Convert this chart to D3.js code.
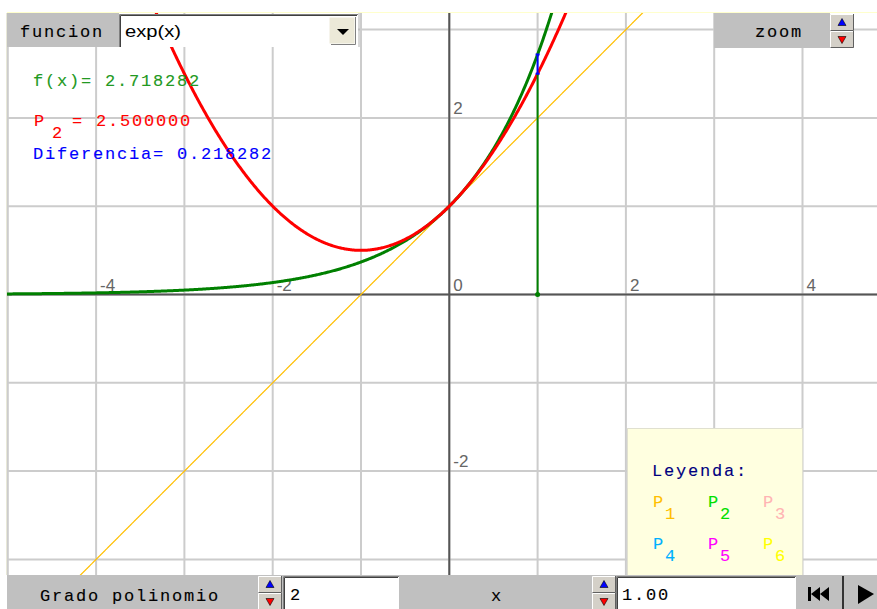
<!DOCTYPE html>
<html>
<head>
<meta charset="utf-8">
<script src="https://cdn.jsdelivr.net/npm/d3@7"></script>
<style>
  body { margin: 0; background: #fff; }
  svg { display: block; }
  .mono { font-family: "Liberation Mono", "DejaVu Sans Mono", monospace; font-size: 17px; letter-spacing: 1.8px; stroke-width: 0.12px; }
</style>
</head>
<body>
<div id="chart"></div>
<script>
// chart values
const funcName = "exp(x)";
const degree = 2;
const xValue = 1.00;
const taylorCoefs = [1, 1, 0.5];          // exp(x) around 0, up to degree 2
const gridValues = [-5, -4, -3, -2, -1, 0, 1, 2, 3, 4, 5];
const xTickLabels = [-4, -2, 0, 2, 4];
const yTickLabels = [-2, 2];
const legendIndex = ["1", "2", "3", "4", "5", "6"];
const legendColors = ["#ffbf00", "#00e000", "#ffb4b4", "#00b0ff", "#ff00ff", "#ffff00"];

const W = 877, H = 609;
const plot = { left: 7, top: 13, right: 877, bottom: 575 };
const unit = 88.3;
const x0 = 449.3, y0 = 294.5;

const svg = d3.select("#chart").append("svg")
    .attr("width", W)
    .attr("height", H);

const x = d3.scaleLinear().domain([-5, 5]).range([x0 - 5 * unit, x0 + 5 * unit]);
const y = d3.scaleLinear().domain([-4, 4]).range([y0 + 4 * unit, y0 - 4 * unit]);

svg.append("defs").append("clipPath").attr("id", "clip")
  .append("rect")
    .attr("x", plot.left).attr("y", plot.top)
    .attr("width", plot.right - plot.left).attr("height", plot.bottom - plot.top);

svg.append("line")
    .attr("x1", plot.left).attr("x2", plot.right)
    .attr("y1", plot.top - 0.5).attr("y2", plot.top - 0.5)
    .attr("stroke", "#ffffcc");
svg.append("line")
    .attr("x1", plot.left - 0.5).attr("x2", plot.left - 0.5)
    .attr("y1", plot.top).attr("y2", plot.bottom)
    .attr("stroke", "#e8e8d8");

const g = svg.append("g").attr("clip-path", "url(#clip)");

// grid
g.selectAll(".gx").data(gridValues).join("line")
    .attr("x1", d => x(d)).attr("x2", d => x(d))
    .attr("y1", plot.top).attr("y2", plot.bottom)
    .attr("stroke", "#cccccc")
    .attr("stroke-width", 2);
g.selectAll(".gy").data(gridValues).join("line")
    .attr("y1", d => y(d)).attr("y2", d => y(d))
    .attr("x1", plot.left).attr("x2", plot.right)
    .attr("stroke", "#cccccc")
    .attr("stroke-width", 2);
// axes on top of grid
g.append("line").attr("x1", x(0)).attr("x2", x(0)).attr("y1", plot.top).attr("y2", plot.bottom)
    .attr("stroke", "#555").attr("stroke-width", 2);
g.append("line").attr("y1", y(0)).attr("y2", y(0)).attr("x1", plot.left).attr("x2", plot.right)
    .attr("stroke", "#555").attr("stroke-width", 2);

// tick labels
const labelFont = "'Liberation Sans', Arial, sans-serif";
g.selectAll(".xl").data(xTickLabels).join("text")
    .attr("x", d => x(d) + 4).attr("y", y(0) - 4)
    .attr("font-family", labelFont).attr("font-size", 17)
    .attr("fill", "#666")
    .text(d => d);
g.selectAll(".yl").data(yTickLabels).join("text")
    .attr("x", x(0) + 4).attr("y", d => y(d) - 4)
    .attr("font-family", labelFont).attr("font-size", 17)
    .attr("fill", "#666")
    .text(d => d);

// curves
const poly = (coefs, t) => coefs.reduce((s, c, i) => s + c * Math.pow(t, i), 0);
const xs = d3.range(-5.3, 5.3, 0.01);
const line = d3.line().x(d => x(d[0])).y(d => y(d[1]));

const p1Coefs = taylorCoefs.slice(0, 2);
g.append("path")
    .attr("d", line(xs.map(t => [t, poly(p1Coefs, t)])))
    .attr("fill", "none").attr("stroke", legendColors[0]).attr("stroke-width", 1.2);

g.append("path")
    .attr("d", line(xs.map(t => [t, Math.exp(t)]).filter(d => d[1] < 6)))
    .attr("fill", "none").attr("stroke", "#008000").attr("stroke-width", 3);

g.append("path")
    .attr("d", line(xs.map(t => [t, poly(taylorCoefs, t)]).filter(d => d[1] < 8)))
    .attr("fill", "none").attr("stroke", "#ff0000").attr("stroke-width", 3);

// marker at x
const fx = Math.exp(xValue);
const px = poly(taylorCoefs, xValue);
g.append("line")
    .attr("x1", x(xValue)).attr("x2", x(xValue))
    .attr("y1", y(0)).attr("y2", y(px))
    .attr("stroke", "#008000").attr("stroke-width", 2);
g.append("line")
    .attr("x1", x(xValue)).attr("x2", x(xValue))
    .attr("y1", y(px)).attr("y2", y(fx))
    .attr("stroke", "#0000ff").attr("stroke-width", 2);
g.selectAll(".bm").data([px, fx]).join("line")
    .attr("x1", x(xValue) - 2).attr("x2", x(xValue) + 2)
    .attr("y1", d => y(d)).attr("y2", d => y(d))
    .attr("stroke", "#0000ff").attr("stroke-width", 2);
g.append("circle").attr("cx", x(xValue)).attr("cy", y(0)).attr("r", 2.5).attr("fill", "#008000");

// readouts
const mono = (sel, xx, yy, color, txt) =>
  sel.append("text").attr("class", "mono").attr("x", xx).attr("y", yy)
      .attr("fill", color).attr("stroke", color).text(txt);

mono(svg, 33, 86, "#229922", `f(x)= ${fx.toFixed(6)}`);
mono(svg, 34, 126, "#ff0000", "P");
mono(svg, 52, 138, "#ff0000", degree);
mono(svg, 72, 126, "#ff0000", `= ${px.toFixed(6)}`);
mono(svg, 33, 159, "#0000ff", `Diferencia= ${(fx - px).toFixed(6)}`);

// legend
const leg = svg.append("g");
leg.append("rect")
    .attr("x", 627.5).attr("y", 428.5).attr("width", 175).attr("height", 147)
    .attr("fill", "#ffffe0").attr("stroke", "#e0e0d0");
mono(leg, 652, 476, "#000080", "Leyenda:");
legendIndex.forEach((d, i) => {
  const cx = 653 + (i % 3) * 55;
  const cy = 507 + Math.floor(i / 3) * 42;
  mono(leg, cx, cy, legendColors[i], "P");
  mono(leg, cx + 12, cy + 12, legendColors[i], d);
});

// controls
function sunken(gg, x1, y1, w, h, fill) {
  gg.append("rect").attr("x", x1).attr("y", y1).attr("width", w).attr("height", h).attr("fill", fill);
  gg.append("path").attr("d", `M${x1 + 0.5},${y1 + h} V${y1 + 0.5} H${x1 + w}`)
      .attr("fill", "none").attr("stroke", "#808080");
  gg.append("path").attr("d", `M${x1 + 1.5},${y1 + h} V${y1 + 1.5} H${x1 + w - 1}`)
      .attr("fill", "none").attr("stroke", "#404040");
}
function spinner(gg, x1, y1, w, h) {
  const hh = h / 2;
  [0, 1].forEach(k => {
    const yy = y1 + k * hh;
    gg.append("rect").attr("x", x1).attr("y", yy).attr("width", w).attr("height", hh)
        .attr("fill", "#d4d0c8");
    gg.append("path").attr("d", `M${x1 + 0.5},${yy + hh} V${yy + 0.5} H${x1 + w}`)
        .attr("fill", "none").attr("stroke", "#fff");
    gg.append("path").attr("d", `M${x1 + 0.5},${yy + hh - 0.5} H${x1 + w - 0.5} V${yy}`)
        .attr("fill", "none").attr("stroke", "#606060");
    const cx = x1 + w / 2, cy = yy + hh / 2;
    const tri = k === 0
      ? `M${cx - 4},${cy + 3} L${cx + 4},${cy + 3} L${cx},${cy - 4} Z`
      : `M${cx - 4},${cy - 3} L${cx + 4},${cy - 3} L${cx},${cy + 4} Z`;
    gg.append("path").attr("d", tri).attr("fill", k === 0 ? "#0000ff" : "#ff0000")
        .attr("stroke", "#000").attr("stroke-width", 0.6);
  });
}

const ctl = svg.append("g");
// top left: funcion
ctl.append("rect").attr("x", 7).attr("y", 13).attr("width", 112).attr("height", 34).attr("fill", "#c0c0c0");
mono(ctl, 20, 37, "#000", "funcion");
sunken(ctl, 119, 14, 239, 33, "#fff");
ctl.append("text").attr("x", 125).attr("y", 37)
    .attr("font-family", "'Liberation Sans', Arial, sans-serif").attr("font-size", 17)
    .attr("textLength", 56).attr("lengthAdjust", "spacingAndGlyphs")
    .attr("fill", "#000").text(funcName);
ctl.append("rect").attr("x", 329).attr("y", 17).attr("width", 26).attr("height", 27)
    .attr("fill", "#ece9d8").attr("stroke", "#fff");
ctl.append("path").attr("d", "M331,44.5 H355.5 V17").attr("fill", "none").attr("stroke", "#808080");
ctl.append("path").attr("d", "M337,29 L349,29 L343,35 Z").attr("fill", "#000");
ctl.append("line").attr("x1", 359).attr("x2", 359).attr("y1", 13).attr("y2", 47).attr("stroke", "#b0b0b0");

// top right: zoom
ctl.append("rect").attr("x", 714).attr("y", 13).attr("width", 116).attr("height", 35).attr("fill", "#c0c0c0");
mono(ctl, 755, 37, "#000", "zoom");
spinner(ctl, 830, 14, 24, 34);

// bottom bar
ctl.append("rect").attr("x", 7).attr("y", 575).attr("width", 870).attr("height", 34).attr("fill", "#c0c0c0");
mono(ctl, 40, 601, "#000", "Grado polinomio");
spinner(ctl, 258, 576, 24, 34);
sunken(ctl, 283, 576, 116, 34, "#fff");
mono(ctl, 290, 600, "#000", degree);
mono(ctl, 491, 601, "#000", "x");
spinner(ctl, 592, 576, 24, 34);
sunken(ctl, 616, 576, 180, 34, "#fff");
mono(ctl, 622, 600, "#000", xValue.toFixed(2));
// playback buttons
ctl.append("rect").attr("x", 797).attr("y", 576).attr("width", 44).attr("height", 33).attr("fill", "#c0c0c0");
ctl.append("line").attr("x1", 843).attr("x2", 843).attr("y1", 576).attr("y2", 609).attr("stroke", "#333").attr("stroke-width", 2);
ctl.append("rect").attr("x", 808).attr("y", 587).attr("width", 3).attr("height", 14).attr("fill", "#000");
ctl.append("path").attr("d", "M811,594 L820,587 L820,601 Z").attr("fill", "#000");
ctl.append("path").attr("d", "M820,594 L829,587 L829,601 Z").attr("fill", "#000");
ctl.append("path").attr("d", "M858,585 L874,594 L858,604 Z").attr("fill", "#000");
</script>
</body>
</html>
